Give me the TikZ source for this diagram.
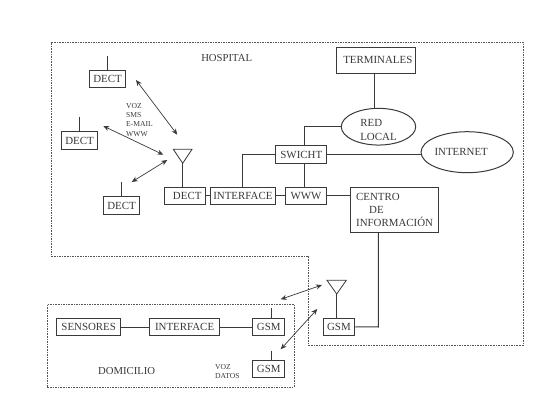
\documentclass[tikz,border=0pt]{standalone}
\usepackage{fontspec}
\setmainfont{Liberation Serif}
\usetikzlibrary{arrows.meta,shapes.geometric}
\definecolor{ink}{HTML}{3A3A3A}
\definecolor{zonec}{HTML}{555555}
\tikzset{
  box/.style={draw=ink,line width=1pt,rectangle,inner sep=0pt,text=ink,font=\fontsize{10.9pt}{13pt}\selectfont},
  oval/.style={draw=ink,line width=1pt,ellipse,inner sep=0pt,text=ink,font=\fontsize{10.9pt}{13.5pt}\selectfont,align=left},
  ovaltext/.style={text=ink,inner sep=0pt,font=\fontsize{10.9pt}{13.5pt}\selectfont,align=left},
  wire/.style={draw=ink,line width=1pt},
  zone/.style={draw=zonec,line width=.7pt,dash pattern=on 1.6pt off 1pt},
  dblarrow/.style={draw=ink,line width=.7pt,{Stealth[length=6pt,width=5pt]}-{Stealth[length=6pt,width=5pt]}},
  lab/.style={text=ink,inner sep=0pt,font=\fontsize{10.7pt}{12.6pt}\selectfont},
  small/.style={text=ink,inner sep=0pt,align=left,font=\fontsize{7.6pt}{9.3pt}\selectfont},
  antenna/.style={draw=ink,line width=.8pt,line join=miter}
}
\begin{document}
\begin{tikzpicture}[x=1pt,y=-1pt]
\useasboundingbox[fill=white] (0,0) rectangle (560,420);
% zones
\draw[zone] (51.6,42) -- (523,42) -- (523,345.5) -- (308.7,345.5) -- (308.7,256.7) -- (51.6,256.7) -- cycle;
\node[zone,rectangle,inner sep=0pt,minimum width=246.7pt,minimum height=83pt] (domzone) at (170.7,345.5) {};
% hospital labels
\node[lab] (hosp) at (226.7,58) {HOSPITAL};
\node[small,anchor=north west] (services) at (126,103) {VOZ\\SMS\\E-MAIL\\WWW};
% hospital boxes
\node[box,minimum width=36.4pt,minimum height=17.4pt] (dectA) at (107.5,79) {DECT};
\node[box,minimum width=36.4pt,minimum height=17.6pt] (dectB) at (79.5,140.5) {DECT};
\node[box,minimum width=36.4pt,minimum height=18pt] (dectC) at (121.5,205.7) {DECT};
\node[box,minimum width=41pt,minimum height=17pt] (dectD) at (185.2,195.8) {\hspace*{4pt}DECT};
\node[box,minimum width=64.3pt,minimum height=17pt] (ifH) at (242.9,195.8) {INTERFACE};
\node[box,minimum width=50.7pt,minimum height=17.6pt] (sw) at (301.3,154.5) {SWICHT};
\node[box,minimum width=41.4pt,minimum height=17pt] (www) at (306,195.8) {WWW};
\node[box,minimum width=87.3pt,minimum height=45pt,align=left] (centro) at (394.6,209.8) {CENTRO\\\hspace*{13pt}DE\\INFORMACIÓN};
\node[box,minimum width=78.7pt,minimum height=26pt] (term) at (376.3,60.3) {\hspace*{3pt}TERMINALES};
\node[oval,minimum width=74.4pt,minimum height=36.7pt,label={[ovaltext,yshift=-3.5pt]center:{RED\\LOCAL}}] (red) at (378.5,126.7) {};
\node[oval,minimum width=83pt,minimum height=41pt] (inet) at (467.2,152.2) {INTERNET\hspace*{12pt}};
% GSM outside
\node[box,minimum width=31.7pt,minimum height=17pt] (gsmC) at (338.9,326.8) {GSM};
% home
\node[box,minimum width=64pt,minimum height=17.4pt] (sens) at (88.7,327) {SENSORES};
\node[box,minimum width=69.3pt,minimum height=17.4pt] (ifD) at (184.6,327) {INTERFACE};
\node[box,minimum width=32pt,minimum height=17.4pt] (gsmA) at (268.7,327) {GSM};
\node[box,minimum width=32pt,minimum height=17.4pt] (gsmB) at (268.7,368.7) {GSM};
\node[lab] (dom) at (126.7,370.7) {DOMICILIO};
\node[small,anchor=north west] (vd) at (215,364) {VOZ\\DATOS};
% antennas
\node[draw=none,inner sep=0pt] (antH) at (182.7,163.3) {};
\node[draw=none,inner sep=0pt] (antG) at (336.7,294) {};
\draw[antenna] (antH.center) -- (173.3,149.3) -- (192,149.3) -- cycle;
\draw[antenna] (antG.center) -- (327,280.3) -- (346.3,280.3) -- cycle;
\draw[wire] (antH.center) -- (antH.center |- dectD.north);
\draw[wire] (antG.center) -- (antG.center |- gsmC.north);
% stubs
\coordinate (sA) at (107.5,56);
\coordinate (sB) at (79.5,116.7);
\coordinate (sC) at (121.5,182.3);
\coordinate (sD) at (271.3,308.3);
\coordinate (sE) at (271.3,350.7);
\draw[wire] (sA) -- (dectA.north);
\draw[wire] (sB) -- (dectB.north);
\draw[wire] (sC) -- (dectC.north);
\draw[wire] (sD) -- (sD |- gsmA.north);
\draw[wire] (sE) -- (sE |- gsmB.north);
% wires
\coordinate (tap) at (304.3,154);
\coordinate (tapT) at (374.3,90);
\draw[wire] (dectD.east) -- (ifH.west);
\draw[wire] (ifH.east) -- (www.west);
\draw[wire] (www.east) -- (www.east -| centro.west);
\draw[wire] (ifH.north) |- (sw.west);
\draw[wire] (sw.south -| tap) -- (www.north -| tap);
\draw[wire] (sw.east) -- (inet.west |- sw.east);
\draw[wire] (red.west) -| (sw.north -| tap);
\draw[wire] (term.south -| tapT) -- (red.north -| tapT);
\coordinate (drop) at (378.3,327);
\draw[wire] (centro.south -| drop) -- (drop) -- (gsmC.east);
\draw[wire] (sens.east) -- (ifD.west);
\draw[wire] (ifD.east) -- (gsmA.west);
% radio arrows
\coordinate (a1) at (136,80); \coordinate (b1) at (177.3,134.7);
\coordinate (a2) at (103.3,126); \coordinate (b2) at (163.3,154.7);
\coordinate (a3) at (131.7,182); \coordinate (b3) at (167.3,160);
\coordinate (a4) at (280.7,299.3); \coordinate (b4) at (322,285);
\coordinate (a5) at (280.7,349.3); \coordinate (b5) at (317.3,309);
\draw[dblarrow] (a1) -- (b1);
\draw[dblarrow] (a2) -- (b2);
\draw[dblarrow] (a3) -- (b3);
\draw[dblarrow] (a4) -- (b4);
\draw[dblarrow] (a5) -- (b5);
\end{tikzpicture}
\end{document}
